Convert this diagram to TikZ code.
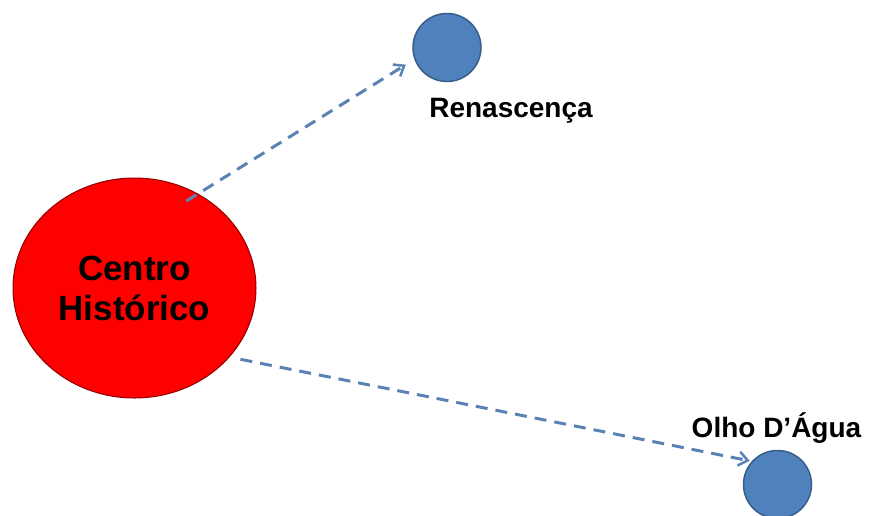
\documentclass[tikz,border=0pt]{standalone}
\usepackage{fontspec}
\setmainfont{Liberation Sans}
\usepackage{tikz}
\usetikzlibrary{arrows.meta}
\usetikzlibrary{shapes.geometric}
\usepackage{xcolor}
\definecolor{bairroblue}{HTML}{4F81BD}
\definecolor{bairroedge}{HTML}{385D8A}
\definecolor{linkblue}{HTML}{5A82B4}
\tikzset{
    hub/.style={
        draw=red!55!black,
        ellipse,
        fill=red,
        line width=1pt,
        minimum width=243pt,
        minimum height=220pt,
        align=center,
        font=\fontsize{35}{40}\selectfont\bfseries
    },
    bairro/.style={
        draw=bairroedge,
        circle,
        fill=bairroblue,
        line width=1.5pt,
        minimum size=68pt,
        inner sep=0pt
    },
    bairrolabel/.style={
        anchor=base,
        inner sep=0pt,
        font=\fontsize{28}{32}\selectfont\bfseries
    },
    link/.style={
        draw=linkblue,
        line width=3pt,
        dash pattern=on 12pt off 8pt,
        -{Straight Barb[length=9pt, width=14pt, line width=2.5pt]}
    }
}

\begin{document}
\begin{tikzpicture}[x=1pt, y=-1pt]
    \useasboundingbox (0,0) rectangle (869,515);
    \node[hub] (centro) at (134.5,288) {Centro\\Histórico};
    \node[bairro] (renasc) at (447,47.5) {};
    \node[bairro] (olho) at (777.5,484.5) {};
    \node[bairrolabel] (renasclabel) at (511,117) {Renascença};
    \node[bairrolabel] (olholabel) at (776.5,437) {Olho D’Água};
    
    \draw[link, shorten <=-14pt, shorten >=10pt] (centro.56) -- (renasc.200);
    \draw[link, shorten <=11pt, shorten >=2pt] (centro.-36) -- (olho.138);
\end{tikzpicture}
\end{document}
